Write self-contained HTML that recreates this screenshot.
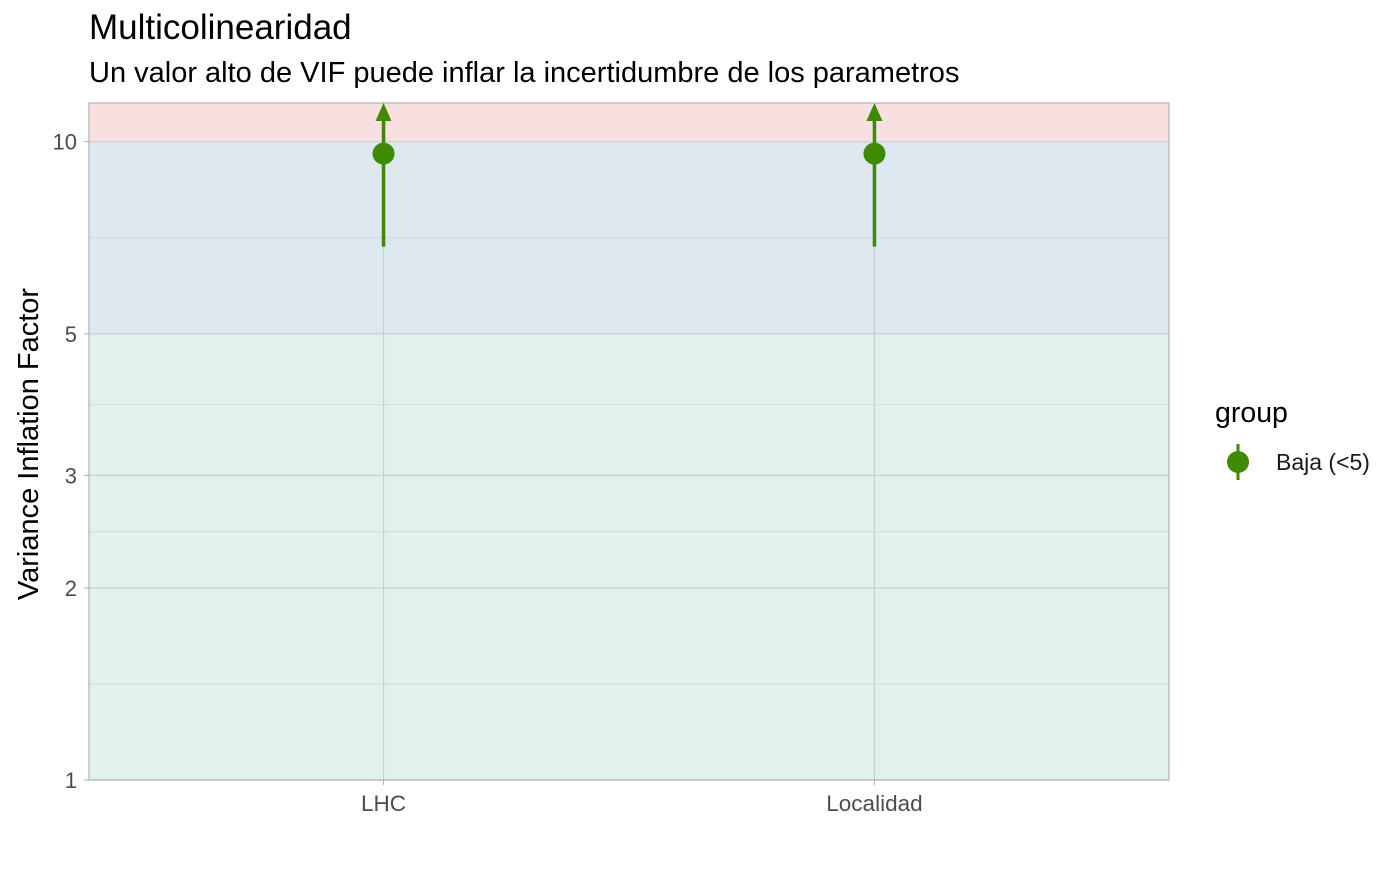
<!DOCTYPE html>
<html><head><meta charset="utf-8"><style>
body{margin:0;background:#fff;font-family:"Liberation Sans",Arial,sans-serif}
</style></head><body>
<svg id="chart" width="1400" height="865" xmlns="http://www.w3.org/2000/svg">
<text x="89" y="39" font-size="35" fill="#000">Multicolinearidad</text>
<text x="89" y="82" font-size="29" fill="#000">Un valor alto de VIF puede inflar la incertidumbre de los parametros</text>
<text transform="translate(38,444) rotate(-90)" text-anchor="middle" font-size="29" fill="#000">Variance Inflation Factor</text>
<g id="plot"></g>
<text x="1215" y="422" font-size="28.5" fill="#000">group</text>
<line x1="1238" y1="444" x2="1238" y2="480" stroke="#3e8a00" stroke-width="3"/>
<circle cx="1238" cy="462" r="11" fill="#3e8a00"/>
<text x="1276" y="470" font-size="23" fill="#1a1a1a">Baja (&lt;5)</text>
</svg>
<script>
const categories=["LHC","Localidad"];
const vifValues=[9.58,9.58];
const ciLow=[6.85,6.85];
const ciHigh=[Infinity,Infinity];
const yTicks=[1,2,3,5,10];
const yMinor=[Math.SQRT2,Math.sqrt(6),Math.sqrt(15),Math.sqrt(50)];
const bands=[[1,5,"#e1f1eb","band-low"],[5,10,"#dde8f0","band-moderate"],[10,11.5,"#f8dfe0","band-high"]];
const L=89,R=1169,T=103,B=780,yMax=11.5;
const ns="http://www.w3.org/2000/svg";
const g=document.getElementById("plot");
function y(v){return B-(Math.log10(v)-0)/Math.log10(yMax)*(B-T);}
function x(i){return L+(i+1-0.4)/2.2*(R-L);}
function mk(t,a){const e=document.createElementNS(ns,t);for(const k in a)e.setAttribute(k,a[k]);g.appendChild(e);return e;}
bands.forEach(b=>{const e=mk("rect",{x:L,y:y(b[1]),width:R-L,height:y(b[0])-y(b[1]),fill:b[2]});

});
yMinor.forEach(v=>{const e=mk("line",{x1:L,x2:R,y1:y(v),y2:y(v),stroke:"#d0d8d8","stroke-width":0.8});

});
yTicks.forEach(v=>{const e=mk("line",{x1:L,x2:R,y1:y(v),y2:y(v),stroke:"#c8d0d0","stroke-width":1.2});


const t=mk("text",{x:L-12,y:y(v)+8,"text-anchor":"end","font-size":22,fill:"#4d4d4d"});t.textContent=v;


const k=mk("line",{x1:L-5,x2:L,y1:y(v),y2:y(v),stroke:"#b3b3b3"});

});
categories.forEach((c,i)=>{const e=mk("line",{x1:x(i),x2:x(i),y1:T,y2:B,stroke:"#c8d0d0","stroke-width":1.2});


const t=mk("text",{x:x(i),y:B+31,"text-anchor":"middle","font-size":22.5,fill:"#4d4d4d"});t.textContent=c;


const k=mk("line",{x1:x(i),x2:x(i),y1:B,y2:B+5,stroke:"#b3b3b3"});

});
const fr=mk("rect",{x:L,y:T,width:R-L,height:B-T,fill:"none",stroke:"#b3b3b3","stroke-width":1.2});


categories.forEach((c,i)=>{
 const top=isFinite(ciHigh[i])?y(Math.min(ciHigh[i],yMax)):T;
 const l=mk("line",{x1:x(i),x2:x(i),y1:y(ciLow[i]),y2:top+6,stroke:"#3e8a00","stroke-width":3.5});
 
 
 if(!isFinite(ciHigh[i])){const a=mk("polygon",{points:`${x(i)-8},${T+18} ${x(i)+8},${T+18} ${x(i)},${T}`,fill:"#3e8a00"});
 
 }
 const p=mk("circle",{cx:x(i),cy:y(vifValues[i]),r:11,fill:"#3e8a00"});
 
 
});
</script>
</body></html>
